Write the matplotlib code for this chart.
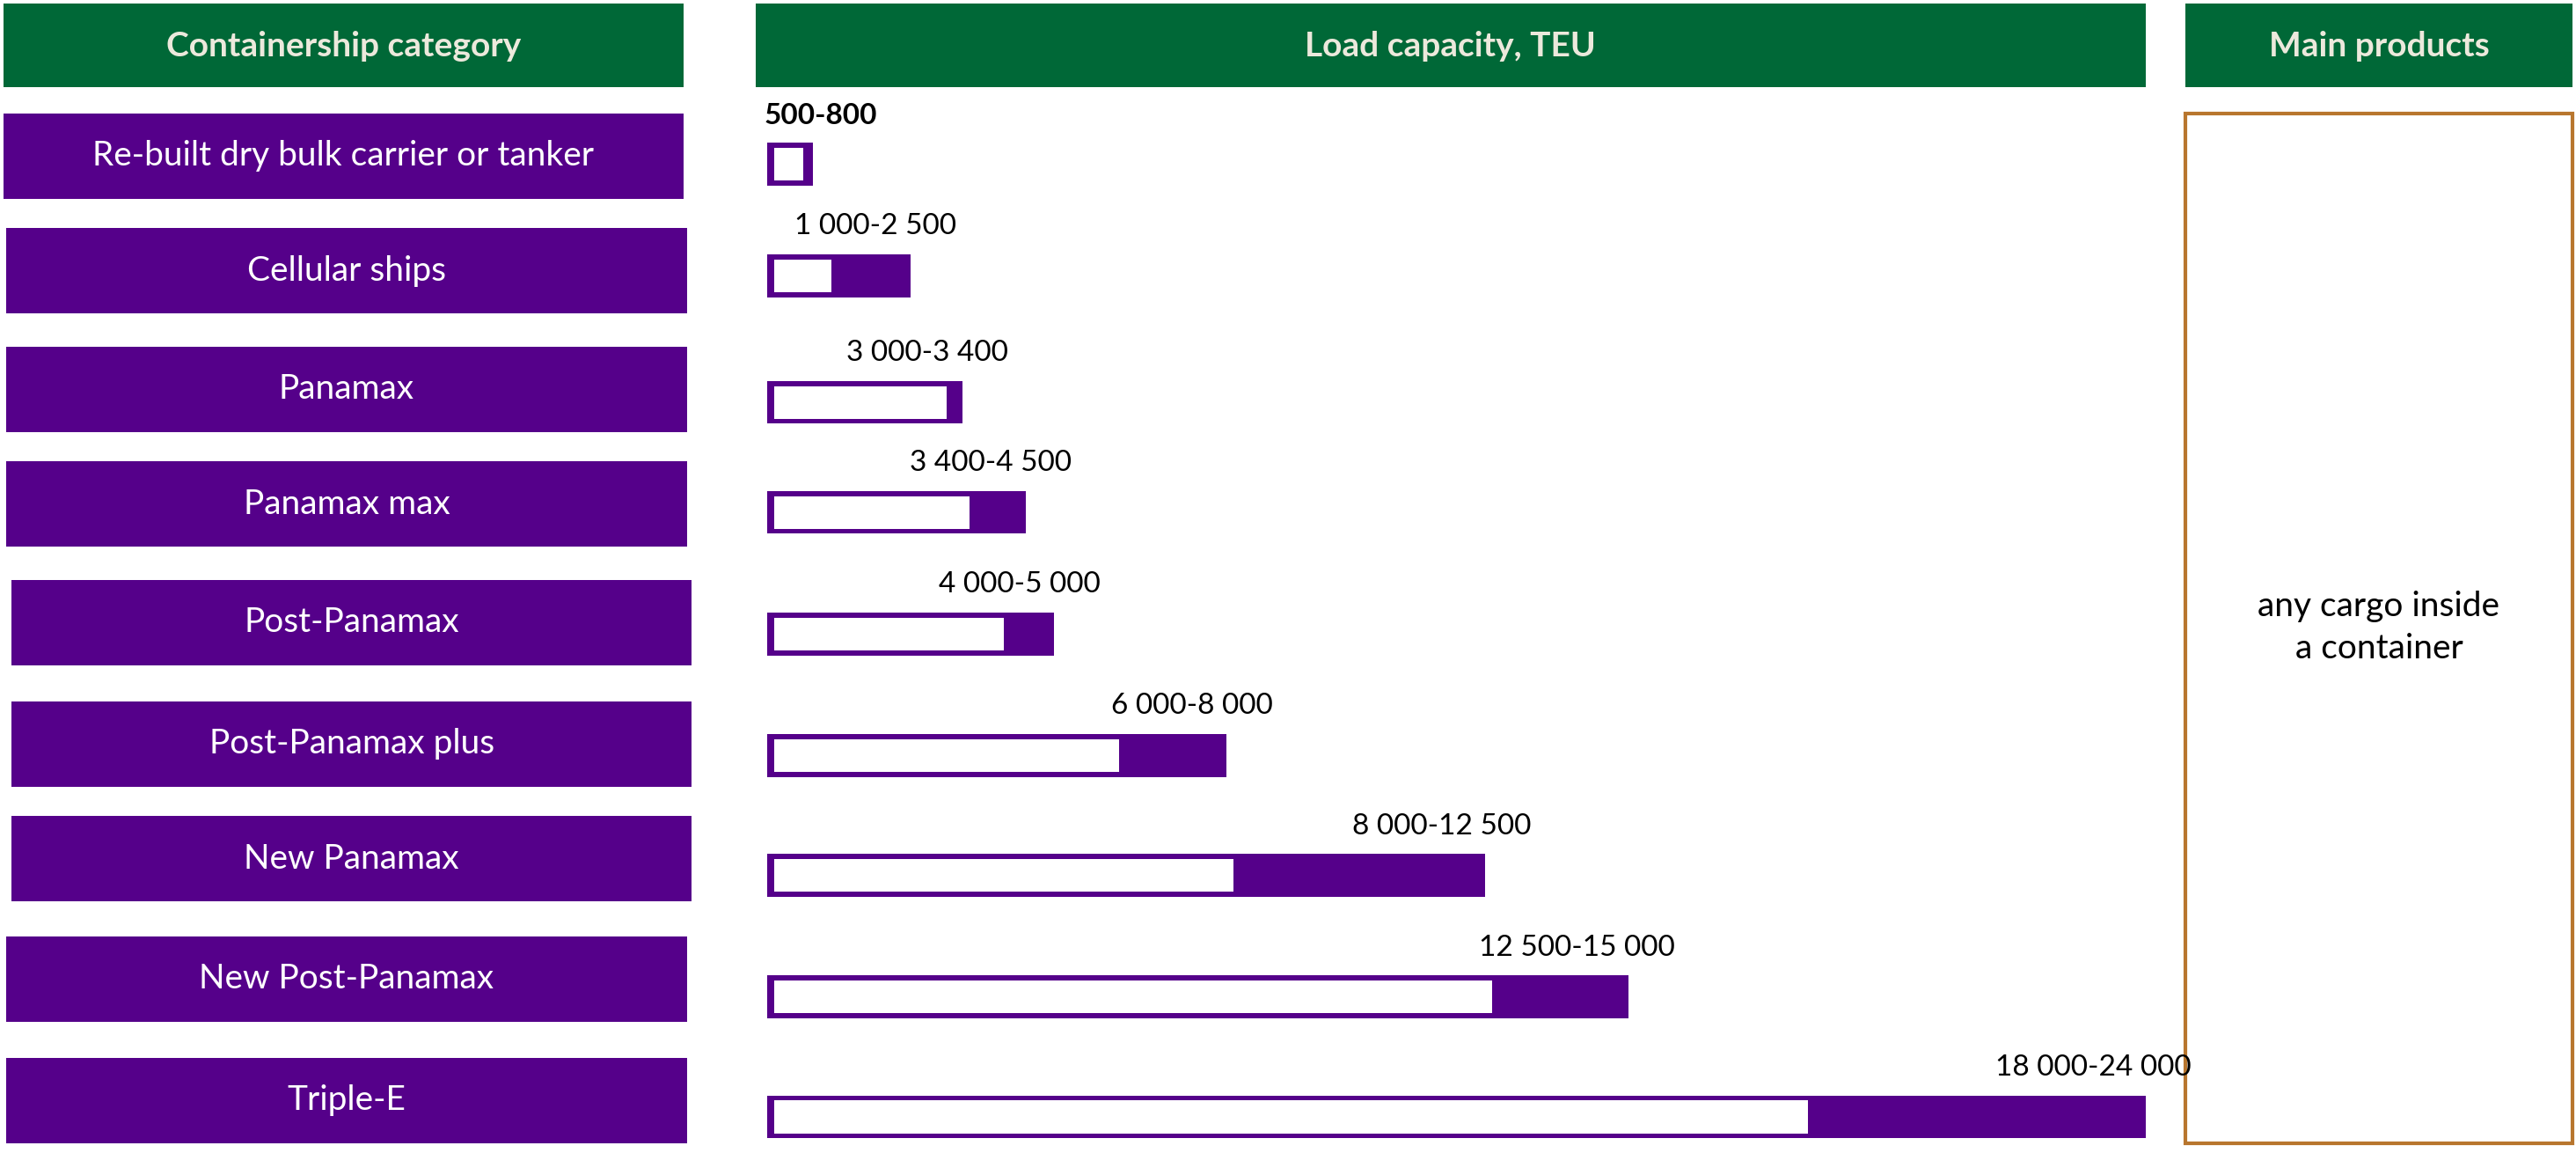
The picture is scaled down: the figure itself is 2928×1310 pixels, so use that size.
import matplotlib.pyplot as plt
from matplotlib.patches import Rectangle

categories = ['Re-built dry bulk carrier or tanker', 'Cellular ships', 'Panamax',
              'Panamax max', 'Post-Panamax', 'Post-Panamax plus', 'New Panamax',
              'New Post-Panamax', 'Triple-E']
teu_min = [500, 1000, 3000, 3400, 4000, 6000, 8000, 12500, 18000]
teu_max = [800, 2500, 3400, 4500, 5000, 8000, 12500, 15000, 24000]
labels = ['500-800', '1 000-2 500', '3 000-3 400', '3 400-4 500', '4 000-5 000',
          '6 000-8 000', '8 000-12 500', '12 500-15 000', '18 000-24 000']

GREEN = '#006837'
PURPLE = '#55008a'
CREAM = '#ece9dc'
BROWN = '#b8762e'
W, H = 1568, 702  # layout grid

plt.rcParams['font.family'] = ['Lato', 'DejaVu Sans']
fig = plt.figure(figsize=(29.28, 13.10), dpi=100)
bg = fig.add_axes([0, 0, 1, 1])
bg.set_xlim(0, W)
bg.set_ylim(H, 0)
bg.axis('off')

def box(x0, y0, x1, y1, fc, ec=None, lw=0):
    bg.add_patch(Rectangle((x0, y0), x1 - x0, y1 - y0, facecolor=fc,
                           edgecolor=ec if ec else fc, linewidth=lw))

# headers
for (x0, x1), t in zip([(2, 416), (460, 1306), (1330, 1566)],
                       ['Containership category', 'Load capacity, TEU', 'Main products']):
    box(x0, 2, x1, 53, GREEN)
    bg.text((x0 + x1) / 2, 28, t, color=CREAM, fontsize=28, fontweight='bold',
            ha='center', va='center')

# category boxes
box_y = [95, 165, 237, 307, 379, 453, 523, 596, 670]
box_x = [2, 4, 4, 4, 7, 7, 7, 4, 4]
for cat, yc, x0 in zip(categories, box_y, box_x):
    box(x0, yc - 26, x0 + 414, yc + 26, PURPLE)
    bg.text(x0 + 207, yc, cat, color='white', fontsize=28, ha='center', va='center')

# main products
box(1330, 69, 1566, 696, 'white', BROWN, 3)
bg.text(1448, 382, 'any cargo inside\na container', fontsize=28, ha='center',
        va='center', linespacing=1.4)

# bars
ax = fig.add_axes([467 / W, 1 - 700 / H, (1306 - 467) / W, (700 - 60) / H])
ax.set_xlim(0, 24000)
ax.set_ylim(700, 60)
ax.axis('off')
bar_y = [100, 168, 245, 312, 386, 460, 533, 607, 680]
for i, (lo, hi, lab, y) in enumerate(zip(teu_min, teu_max, labels, bar_y)):
    ax.barh(y, hi, height=26, color=PURPLE, left=0)
    ax.barh(y, lo, height=20, color='white', left=120)
    ax.text(hi, y - 22, lab, fontsize=24, ha='right' if i else 'left',
            va='bottom', fontweight='bold' if i == 0 else 'normal',
            position=(hi + 800 if i else -50, y - 22))

fig.savefig('out.png', dpi=100)
